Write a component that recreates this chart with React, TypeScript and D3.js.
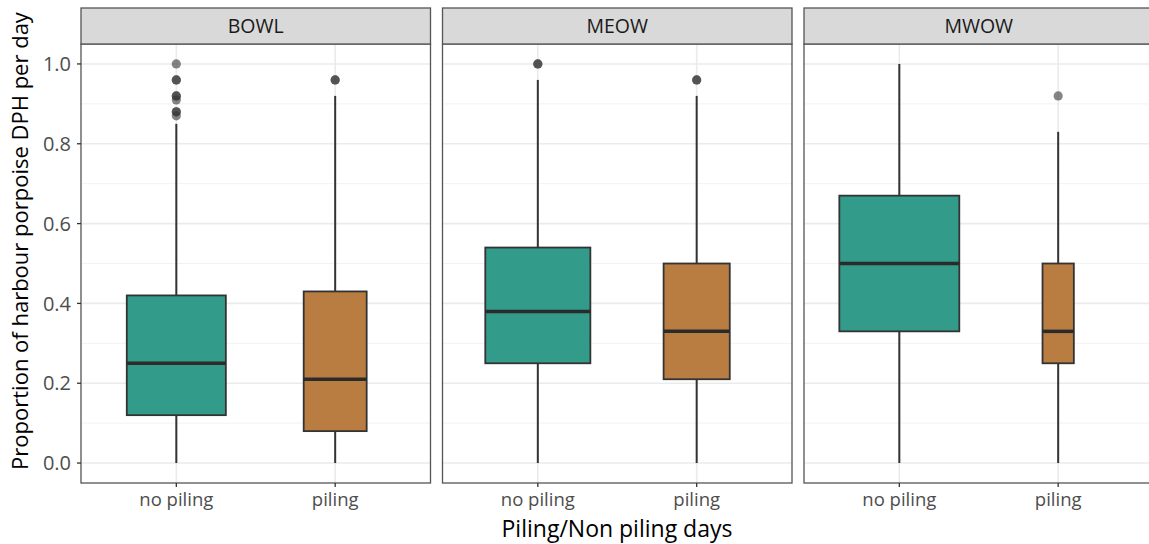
import React from "react";
import * as d3 from "d3";

// facet panels and groups
const facets = ["BOWL", "MEOW", "MWOW"];
const groups = ["no piling", "piling"];

// box statistics, one row per facet: [no piling, piling]
const lowerWhisker = [[0, 0], [0, 0], [0, 0]];
const q1 = [[0.12, 0.08], [0.25, 0.21], [0.33, 0.25]];
const median = [[0.25, 0.21], [0.38, 0.33], [0.5, 0.33]];
const q3 = [[0.42, 0.43], [0.54, 0.5], [0.67, 0.5]];
const upperWhisker = [[0.85, 0.92], [0.96, 0.92], [1.0, 0.83]];
// estimated number of days (drives the varwidth box widths)
const nDays = [[240, 97], [270, 107], [352, 24]];
const outliers = [
  [[0.87, 0.88, 0.88, 0.91, 0.92, 0.92, 0.96, 0.96, 1.0], [0.96, 0.96]],
  [[1.0, 1.0], [0.96, 0.96]],
  [[], [0.92]],
];

const yTicks = [0, 0.2, 0.4, 0.6, 0.8, 1.0];
const yMinor = [0.1, 0.3, 0.5, 0.7, 0.9];

const W = 1149;
const H = 544;
const FONT = "'Open Sans', 'Noto Sans', sans-serif";
const fills = ["#339b89", "#b97d42"];

export default function App() {
  const left = 81;
  const panelW = 349.5;
  const gap = 12;
  const stripTop = 8;
  const stripH = 36;
  const panelTop = stripTop + stripH;
  const panelBottom = 483;

  const y = d3.scaleLinear().domain([-0.05, 1.05]).range([panelBottom, panelTop]);
  const x = d3.scalePoint<string>().domain(groups).range([0, panelW]).padding(0.6);
  const boxW = d3.scaleSqrt().domain([0, 500]).range([0, 0.9 * x.step()]);

  return (
    <svg width={W} height={H} style={{ position: "absolute", left: 0, top: 0, fontFamily: FONT }}>
      <rect width={W} height={H} fill="#fff" />
      {facets.map((f, fi) => {
        const px = left + fi * (panelW + gap);
        return (
          <g key={f} transform={`translate(${px},0)`}>
            {/* grid */}
            {yMinor.map((t) => (
              <line key={"m" + t} x1={0} x2={panelW} y1={y(t)} y2={y(t)} stroke="#f2f2f2" strokeWidth={1} />
            ))}
            {yTicks.map((t) => (
              <line key={"g" + t} x1={0} x2={panelW} y1={y(t)} y2={y(t)} stroke="#ebebeb" strokeWidth={1.6} />
            ))}
            {groups.map((g) => (
              <line key={"v" + g} x1={x(g)} x2={x(g)} y1={panelTop} y2={panelBottom} stroke="#ebebeb" strokeWidth={1.6} />
            ))}

            {/* boxes */}
            {groups.map((g, gi) => {
              const cx = x(g)!;
              const bw = boxW(nDays[fi][gi]);
              return (
                <g key={g}>
                  <line x1={cx} x2={cx} y1={y(lowerWhisker[fi][gi])} y2={y(q1[fi][gi])} stroke="#333" strokeWidth={2} />
                  <line x1={cx} x2={cx} y1={y(q3[fi][gi])} y2={y(upperWhisker[fi][gi])} stroke="#333" strokeWidth={2} />
                  <rect
                    x={cx - bw / 2}
                    width={bw}
                    y={y(q3[fi][gi])}
                    height={y(q1[fi][gi]) - y(q3[fi][gi])}
                    fill={fills[gi]}
                    stroke="#333"
                    strokeWidth={1.8}
                  />
                  <line x1={cx - bw / 2} x2={cx + bw / 2} y1={y(median[fi][gi])} y2={y(median[fi][gi])} stroke="#2b2b2b" strokeWidth={3.5} />
                  {outliers[fi][gi].map((v, oi) => (
                    <circle key={oi} cx={cx} cy={y(v)} r={4.6} fill="#333" fillOpacity={0.6} />
                  ))}
                </g>
              );
            })}

            {/* panel border */}
            <rect x={0} y={panelTop} width={panelW} height={panelBottom - panelTop} fill="none" stroke="#555" strokeWidth={1.3} />

            {/* strip */}
            <rect x={0} y={stripTop} width={panelW} height={stripH} fill="#d9d9d9" stroke="#555" strokeWidth={1.3} />
            <text x={panelW / 2} y={stripTop + stripH / 2} dy="0.36em" textAnchor="middle" fontSize={19.5} fill="#1a1a1a">
              {f}
            </text>

            {/* x ticks */}
            {groups.map((g) => (
              <g key={"xt" + g}>
                <line x1={x(g)} x2={x(g)} y1={panelBottom} y2={panelBottom + 4} stroke="#333" strokeWidth={1.3} />
                <text x={x(g)} y={panelBottom + 23} textAnchor="middle" fontSize={18.5} fill="#4d4d4d">
                  {g}
                </text>
              </g>
            ))}
          </g>
        );
      })}

      {/* y axis */}
      {yTicks.map((t) => (
        <g key={"yt" + t}>
          <line x1={left - 4} x2={left} y1={y(t)} y2={y(t)} stroke="#333" strokeWidth={1.3} />
          <text x={left - 10} y={y(t)} dy="0.36em" textAnchor="end" fontSize={20} fill="#4d4d4d">
            {d3.format(".1f")(t)}
          </text>
        </g>
      ))}

      <text x={617} y={537} textAnchor="middle" fontSize={23} fill="#000">
        Piling/Non piling days
      </text>
      <text
        transform={`translate(20,241) rotate(-90)`}
        dy="0.35em"
        textAnchor="middle"
        fontSize={22}
        fill="#000"
      >
        Proportion of harbour porpoise DPH per day
      </text>
    </svg>
  );
}
